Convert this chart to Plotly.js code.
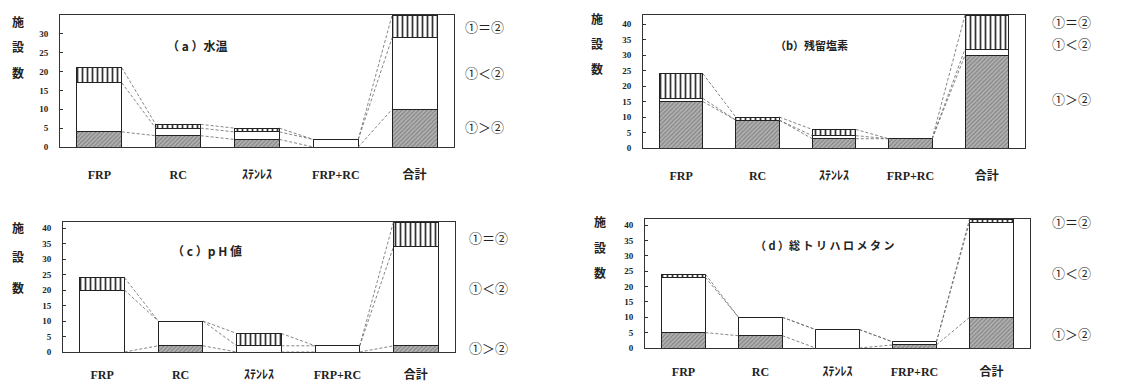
<!DOCTYPE html>
<html>
<head>
<meta charset="utf-8">
<script src="https://cdn.plot.ly/plotly-3.0.1.min.js"></script>
<style>html,body{margin:0;padding:0;background:#fff;}#chart{width:1133px;height:385px;}</style>
</head>
<body>
<div id="chart"></div>
<script>
// categories (x tick labels)
const categories = ['FRP', 'RC', 'ｽﾃﾝﾚｽ', 'FRP+RC', '合計'];
const seriesNames = ['①＞②', '①＜②', '①＝②'];

// (a) 水温
const a_gt = [4, 3, 2, 0, 10];
const a_lt = [13, 2, 2, 2, 19];
const a_eq = [4, 1, 1, 0, 6];
// (b) 残留塩素
const b_gt = [15, 9, 3, 3, 30];
const b_lt = [1, 0, 1, 0, 2];
const b_eq = [8, 1, 2, 0, 11];
// (c) pH値
const c_gt = [0, 2, 0, 0, 2];
const c_lt = [20, 8, 2, 2, 32];
const c_eq = [4, 0, 4, 0, 8];
// (d) 総トリハロメタン
const d_gt = [5, 4, 0, 1, 10];
const d_lt = [18, 6, 6, 1, 31];
const d_eq = [1, 0, 0, 0, 1];

const panelTitles = ['（ a ）水温', '（b）残留塩素', '（ c ）p H 値', '（ d ）総 ト リ ハ ロ メ タ ン'];
const yTicks = [[0,5,10,15,20,25,30],[0,5,10,15,20,25,30,35,40],[0,5,10,15,20,25,30,35,40],[0,5,10,15,20,25,30,35,40]];
const yMax = [35, 43, 42, 42];

const W = 1133, H = 385;
const px = v => v / W;
const py = v => 1 - v / H;

// panel geometry in pixels: [left, right, top, bottom]
const boxes = [[60, 454, 15, 147], [643, 1025, 15, 148], [63, 455, 222, 352], [645, 1030, 219, 348]];
const xStandoff = [17, 17, 12, 13];
const panels = [[a_gt, a_lt, a_eq], [b_gt, b_lt, b_eq], [c_gt, c_lt, c_eq], [d_gt, d_lt, d_eq]];
const barW = 0.57;
const xs = categories.map((c, i) => i);

const styles = [
  {color: '#a8a8a8', line: {color: '#222', width: 1}, pattern: {shape: '/', bgcolor: '#b0b0b0', fgcolor: '#7a7a7a', size: 3, solidity: 0.3}},
  {color: '#ffffff', line: {color: '#222', width: 1}},
  {color: '#ffffff', line: {color: '#222', width: 1}, pattern: {shape: '|', bgcolor: '#ffffff', fgcolor: '#333', size: 5, solidity: 0.35}}
];

const traces = [];
const layout = {
  width: W, height: H, margin: {l: 0, r: 0, t: 0, b: 0},
  paper_bgcolor: '#fff', plot_bgcolor: '#fff',
  barmode: 'stack', showlegend: false, bargap: 0,
  font: {family: 'Liberation Serif, Noto Sans CJK JP', color: '#222'},
  annotations: []
};

panels.forEach((series, p) => {
  const s = p === 0 ? '' : String(p + 1);
  const b = boxes[p];
  series.forEach((vals, k) => {
    traces.push({
      type: 'bar', x: xs, y: vals, width: barW, name: seriesNames[k],
      xaxis: 'x' + s, yaxis: 'y' + s, marker: styles[k], hoverinfo: 'skip'
    });
  });
  // dashed connector lines between cumulative levels of neighbouring bars
  const lx = [], ly = [];
  for (let i = 0; i < categories.length - 1; i++) {
    let c0 = 0, c1 = 0;
    for (let k = 0; k < 3; k++) {
      c0 += series[k][i]; c1 += series[k][i + 1];
      lx.push(xs[i] + barW / 2, xs[i + 1] - barW / 2, null);
      ly.push(c0, c1, null);
    }
  }
  traces.push({type: 'scatter', mode: 'lines', x: lx, y: ly, xaxis: 'x' + s, yaxis: 'y' + s,
    line: {color: '#666', width: 0.8, dash: '3px,2px'}, hoverinfo: 'skip', connectgaps: false});

  layout['xaxis' + s] = {
    domain: [px(b[0]), px(b[1])], anchor: 'y' + s, range: [-0.5, categories.length - 0.5],
    tickvals: xs, ticktext: categories, ticks: '', showgrid: false, zeroline: false,
    showline: true, mirror: true, linecolor: '#333', linewidth: 1,
    tickfont: {family: 'Liberation Serif, Noto Sans CJK JP', size: 12, color: '#222', weight: 'bold'},
    ticklabelstandoff: xStandoff[p], fixedrange: true
  };
  layout['yaxis' + s] = {
    domain: [py(b[3]), py(b[2])], anchor: 'x' + s, range: [0, yMax[p]],
    tickvals: yTicks[p], ticks: 'inside', ticklen: 3, tickcolor: '#333', showgrid: false, zeroline: false,
    showline: true, mirror: true, linecolor: '#333', linewidth: 1,
    tickfont: {family: 'Liberation Serif', size: 9, color: '#222', weight: 'bold'},
    ticklabelstandoff: 9, fixedrange: true
  };
});

// y-axis label 施設数 (vertical, one char per line)
const yLabelPos = [[18, [21, 46, 72]], [597, [18, 43, 68]], [18, [227, 256, 287]], [600, [221, 247, 272]]];
yLabelPos.forEach(([x, ys]) => {
  ['施', '設', '数'].forEach((ch, i) => {
    layout.annotations.push({xref: 'paper', yref: 'paper', x: px(x), y: py(ys[i]), text: ch, showarrow: false,
      font: {family: 'Noto Sans CJK JP', size: 12, color: '#222', weight: 'bold'}, xanchor: 'center', yanchor: 'middle'});
  });
});

// panel titles
const titlePos = [[197, 45, 12], [811, 45, 11], [207, 250, 12], [825, 245, 11]];
titlePos.forEach(([x, y, fs], p) => {
  layout.annotations.push({xref: 'paper', yref: 'paper', x: px(x), y: py(y), text: panelTitles[p], showarrow: false,
    font: {family: 'Noto Sans CJK JP', size: fs, color: '#222', weight: 'bold'}, xanchor: 'center', yanchor: 'middle'});
});

// segment labels at right
const segLabels = ['①＝②', '①＜②', '①＞②'];
const segPos = [[463, [26, 73, 126]], [1050, [21, 43, 99]], [467, [237, 287, 347]], [1050, [221, 272, 333]]];
segPos.forEach(([x, ys]) => {
  ys.forEach((y, i) => {
    layout.annotations.push({xref: 'paper', yref: 'paper', x: px(x), y: py(y), text: segLabels[i], showarrow: false,
      font: {family: 'Noto Sans CJK JP', size: 13, color: '#222'}, xanchor: 'left', yanchor: 'middle'});
  });
});

Plotly.newPlot('chart', traces, layout, {displayModeBar: false, staticPlot: true});
</script>
</body>
</html>
